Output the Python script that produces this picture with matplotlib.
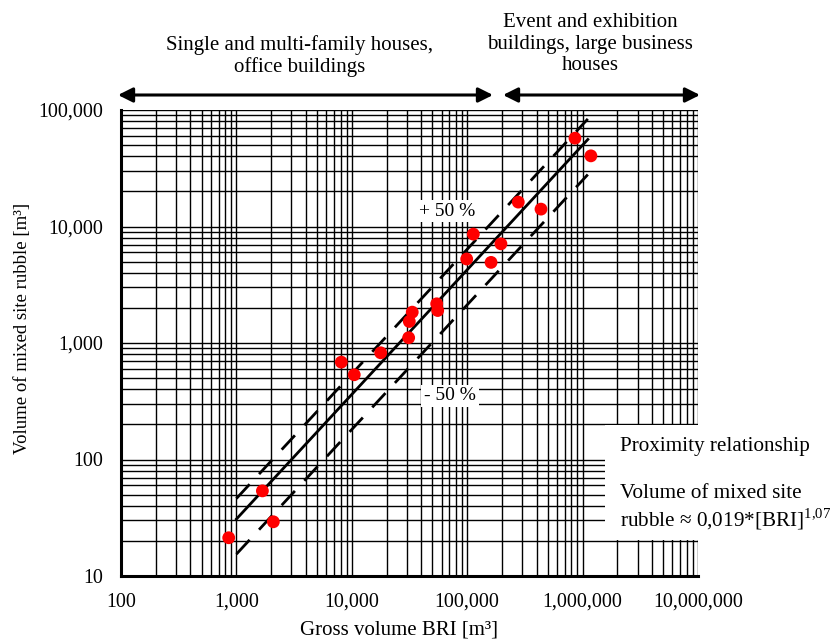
import matplotlib
matplotlib.use("Agg")
import matplotlib.pyplot as plt
from matplotlib.ticker import FuncFormatter, LogLocator, NullFormatter
from matplotlib.patches import Rectangle
import numpy as np

plt.rcParams['font.family'] = ['Liberation Serif', 'DejaVu Serif']
plt.rcParams['mathtext.fontset'] = 'custom'
plt.rcParams['mathtext.rm'] = 'Liberation Serif'

# Gross volume BRI [m³] and volume of mixed site rubble [m³]
bri = [858, 1680, 2090, 8110, 10500, 17800, 31100, 31500, 33400, 54400, 55500,
       99000, 113000, 161000, 196000, 277000, 436000, 859000, 1180000]
rubble = [21.3, 53.8, 29.2, 685, 534, 824, 1110, 1530, 1840, 2170, 1900,
          5260, 8600, 4920, 7100, 16200, 14100, 57300, 40400]

# Proximity relationship: rubble ≈ coef * BRI^exp, with a ±50 % band
coef = 0.019
expo = 1.07
band = 0.5
fit_range = [1000, 1110000]

x_ticks = [100, 1000, 10000, 100000, 1000000, 10000000]
y_ticks = [10, 100, 1000, 10000, 100000]

W, H = 830, 643
fig = plt.figure(figsize=(W / 100, H / 100), dpi=100)
ax = fig.add_axes([121 / W, 67 / H, (698 - 121) / W, (576 - 110) / H])

ax.set_xscale('log')
ax.set_yscale('log')
ax.set_xlim(x_ticks[0], x_ticks[-1])
ax.set_ylim(y_ticks[0], y_ticks[-1])

for a in (ax.xaxis, ax.yaxis):
    a.set_major_locator(LogLocator(base=10))
    a.set_minor_locator(LogLocator(base=10, subs=np.arange(2, 10)))
    a.set_minor_formatter(NullFormatter())
    a.set_major_formatter(FuncFormatter(lambda v, p: f"{int(round(v)):,}"))

ax.set_xticks(x_ticks)
ax.set_yticks(y_ticks)
ax.tick_params(which='both', length=0, labelsize=14.4, colors='black')
ax.tick_params(axis='x', pad=12)
ax.tick_params(axis='y', pad=13)
ax.grid(which='both', color='black', lw=1.0, zorder=0)
ax.set_axisbelow(True)

for side in ('top', 'right'):
    ax.spines[side].set_visible(False)
for side in ('left', 'bottom'):
    ax.spines[side].set_linewidth(2.2)

fig.text(399 / W, 1 - 630 / H, 'Gross volume BRI [m³]', fontsize=15,
         ha='center', va='center')
fig.text(23 / W, 1 - 328 / H, 'Volume of mixed site rubble [m³]', fontsize=13.5,
         rotation=90, ha='center', va='center')

# fitted line and band
xf = np.logspace(np.log10(fit_range[0]), np.log10(fit_range[1]), 100)
yf = coef * xf ** expo
ax.plot(xf, yf, color='black', lw=2, zorder=3)
ax.plot(xf, yf * (1 + band), color='black', lw=2, ls=(0, (7, 5)), zorder=3)
ax.plot(xf, yf * (1 - band), color='black', lw=2, ls=(0, (7, 5)), zorder=3)

ax.scatter(bri, rubble, s=85, color='red', edgecolors='none', zorder=4)

# band labels
box = dict(facecolor='white', edgecolor='none', pad=2)
ax.text(447 / W, 1 - 211 / H, '+ 50 %', transform=fig.transFigure, fontsize=14,
        ha='center', va='center', bbox=box, zorder=5)
ax.text(450 / W, 1 - 396 / H, '- 50 %', transform=fig.transFigure, fontsize=14,
        ha='center', va='center', bbox=box, zorder=5)

# white panel for the relationship note
fig.patches.append(Rectangle((605 / W, 1 - 540 / H), (830 - 605) / W, (540 - 425) / H,
                             transform=fig.transFigure, facecolor='white',
                             edgecolor='none', zorder=5))
fig.text(620 / W, 1 - 447 / H, 'Proximity relationship', fontsize=15.2,
         ha='left', va='center', zorder=6)
fig.text(620 / W, 1 - 508 / H,
         'Volume of mixed site\nrubble ≈ 0,019*[BRI]$^{\\mathrm{1{,}07}}$', fontsize=15.2,
         ha='left', va='center', linespacing=1.2, zorder=6)

# building-category arrows
arrow = dict(arrowstyle='<|-|>', color='black', lw=2.2, mutation_scale=22,
             shrinkA=0, shrinkB=0)
ax.annotate('', xy=(118 / W, 1 - 95 / H), xytext=(493 / W, 1 - 95 / H),
            xycoords='figure fraction', textcoords='figure fraction',
            arrowprops=arrow, annotation_clip=False)
ax.annotate('', xy=(503 / W, 1 - 95 / H), xytext=(700 / W, 1 - 95 / H),
            xycoords='figure fraction', textcoords='figure fraction',
            arrowprops=arrow, annotation_clip=False)

fig.text(300 / W, 1 - 56 / H, 'Single and multi-family houses,\noffice buildings',
         fontsize=15, ha='center', va='center', linespacing=1.15)
fig.text(590 / W, 1 - 44 / H, 'Event and exhibition\nbuildings, large business\nhouses',
         fontsize=15, ha='center', va='center', linespacing=1.15)

fig.savefig('out.png', dpi=100, facecolor='white')
